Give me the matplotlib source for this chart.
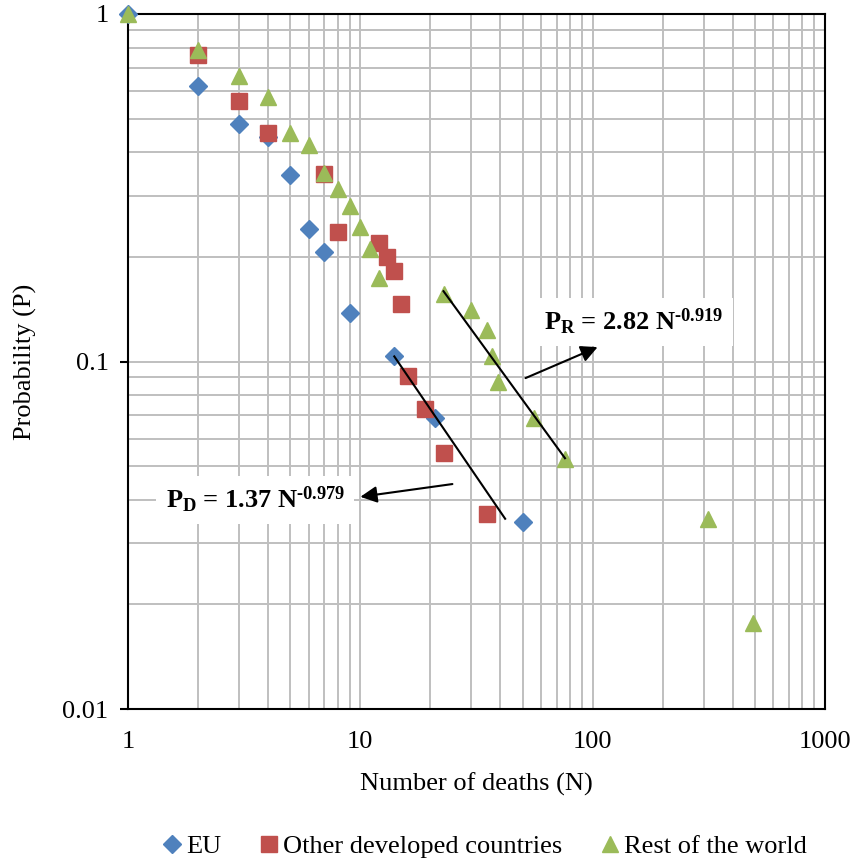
import matplotlib
matplotlib.use("Agg")
import matplotlib.pyplot as plt
from matplotlib.ticker import LogLocator, FuncFormatter, NullFormatter
import numpy as np

matplotlib.rcParams['font.family'] = 'Liberation Serif'
matplotlib.rcParams['font.size'] = 19
matplotlib.rcParams['mathtext.fontset'] = 'custom'
matplotlib.rcParams['mathtext.rm'] = 'Liberation Serif'
matplotlib.rcParams['mathtext.bf'] = 'Liberation Serif:bold'
matplotlib.rcParams['mathtext.it'] = 'Liberation Serif:italic'

# datos
eu_n = [1, 2, 3, 4, 5, 6, 7, 9, 14, 21, 50]
eu_p = [1.0, 0.621, 0.483, 0.443, 0.344, 0.241, 0.207, 0.138, 0.104, 0.069, 0.0345]

dev_n = [2, 3, 4, 7, 8, 12, 13, 14, 15, 16, 19, 23, 35]
dev_p = [0.762, 0.562, 0.455, 0.346, 0.236, 0.219, 0.200, 0.182, 0.146,
         0.091, 0.073, 0.0546, 0.0364]

row_n = [1, 2, 3, 4, 5, 6, 7, 8, 9, 10, 11, 12, 23, 30, 35, 37, 39, 56, 76, 313, 490]
row_p = [1.0, 0.788, 0.663, 0.577, 0.455, 0.420, 0.349, 0.313, 0.280, 0.244,
         0.211, 0.174, 0.156, 0.141, 0.123, 0.104, 0.0873, 0.069, 0.0525,
         0.0352, 0.0177]

series_labels = ['EU', 'Other developed countries', 'Rest of the world']

# ajustes potenciales (a, b, N inicial, N final)
fit_d = (1.37, -0.979, 14, 42)
fit_r = (2.82, -0.919, 22.8, 76)

fig = plt.figure(figsize=(8.5, 8.63), dpi=100)
ax = fig.add_axes([0.1506, 0.1784, 0.82, 0.8054])

ax.set_xscale('log')
ax.set_yscale('log')
ax.set_xlim(1, 1000)
ax.set_ylim(0.01, 1)

ax.xaxis.set_major_locator(LogLocator(base=10, numticks=10))
ax.xaxis.set_minor_locator(LogLocator(base=10, subs=np.arange(2, 10), numticks=10))
ax.yaxis.set_major_locator(LogLocator(base=10, numticks=10))
ax.yaxis.set_minor_locator(LogLocator(base=10, subs=np.arange(2, 10), numticks=10))
ax.xaxis.set_minor_formatter(NullFormatter())
ax.yaxis.set_minor_formatter(NullFormatter())
ax.xaxis.set_major_formatter(FuncFormatter(lambda v, pos: f"{v:g}"))
ax.yaxis.set_major_formatter(FuncFormatter(lambda v, pos: f"{v:g}"))

ax.grid(True, which='both', color='#bfbfbf', linewidth=1.4)
ax.set_axisbelow(True)
for s in ax.spines.values():
    s.set_color('black')
    s.set_linewidth(1.5)
ax.tick_params(which='minor', length=0)
ax.tick_params(axis='x', which='major', length=0, pad=16)
ax.tick_params(axis='y', which='major', length=6, width=1.5, direction='out', pad=8)

ax.plot(eu_n, eu_p, linestyle='none', marker='D', markersize=9.5,
        color='#4F81BD', label=series_labels[0], clip_on=False, zorder=3)
ax.plot(dev_n, dev_p, linestyle='none', marker='s', markersize=11,
        color='#C0504D', label=series_labels[1], clip_on=False, zorder=3)
ax.plot(row_n, row_p, linestyle='none', marker='^', markersize=12,
        color='#9BBB59', label=series_labels[2], clip_on=False, zorder=3)

# lineas de ajuste
for a, b, n0, n1 in (fit_d, fit_r):
    nn = np.array([n0, n1])
    ax.plot(nn, a * nn ** b, color='black', linewidth=1.5, zorder=4)

arrow = dict(arrowstyle='-|>', color='black', lw=1.5,
             mutation_scale=25, shrinkA=0, shrinkB=0)
box = dict(boxstyle='square,pad=0.35', facecolor='white', edgecolor='none')

ax.annotate('', xy=(105, 0.110), xytext=(51.4, 0.0896), arrowprops=arrow, zorder=5)
ax.text(150, 0.130, 'P$_{\\mathbf{R}}$ = 2.82 N$^{\\mathbf{\u20100.919}}$', fontsize=19,
        fontweight='bold', ha='center', va='center', bbox=box, zorder=5)

ax.annotate('', xy=(10.0, 0.0408), xytext=(24.9, 0.0444), arrowprops=arrow, zorder=5)
ax.text(3.53, 0.0399, 'P$_{\\mathbf{D}}$ = 1.37 N$^{\\mathbf{\u20100.979}}$', fontsize=19,
        fontweight='bold', ha='center', va='center', bbox=box, zorder=5)

ax.set_xlabel('Number of deaths (N)', labelpad=14)
ax.set_ylabel('Probability (P)', labelpad=18)

fig.legend(loc='lower center', ncol=3, frameon=False, bbox_to_anchor=(0.568, -0.022),
           handletextpad=0.05, columnspacing=1.3, handlelength=1.0, fontsize=19)

fig.savefig('out.png', dpi=100)
